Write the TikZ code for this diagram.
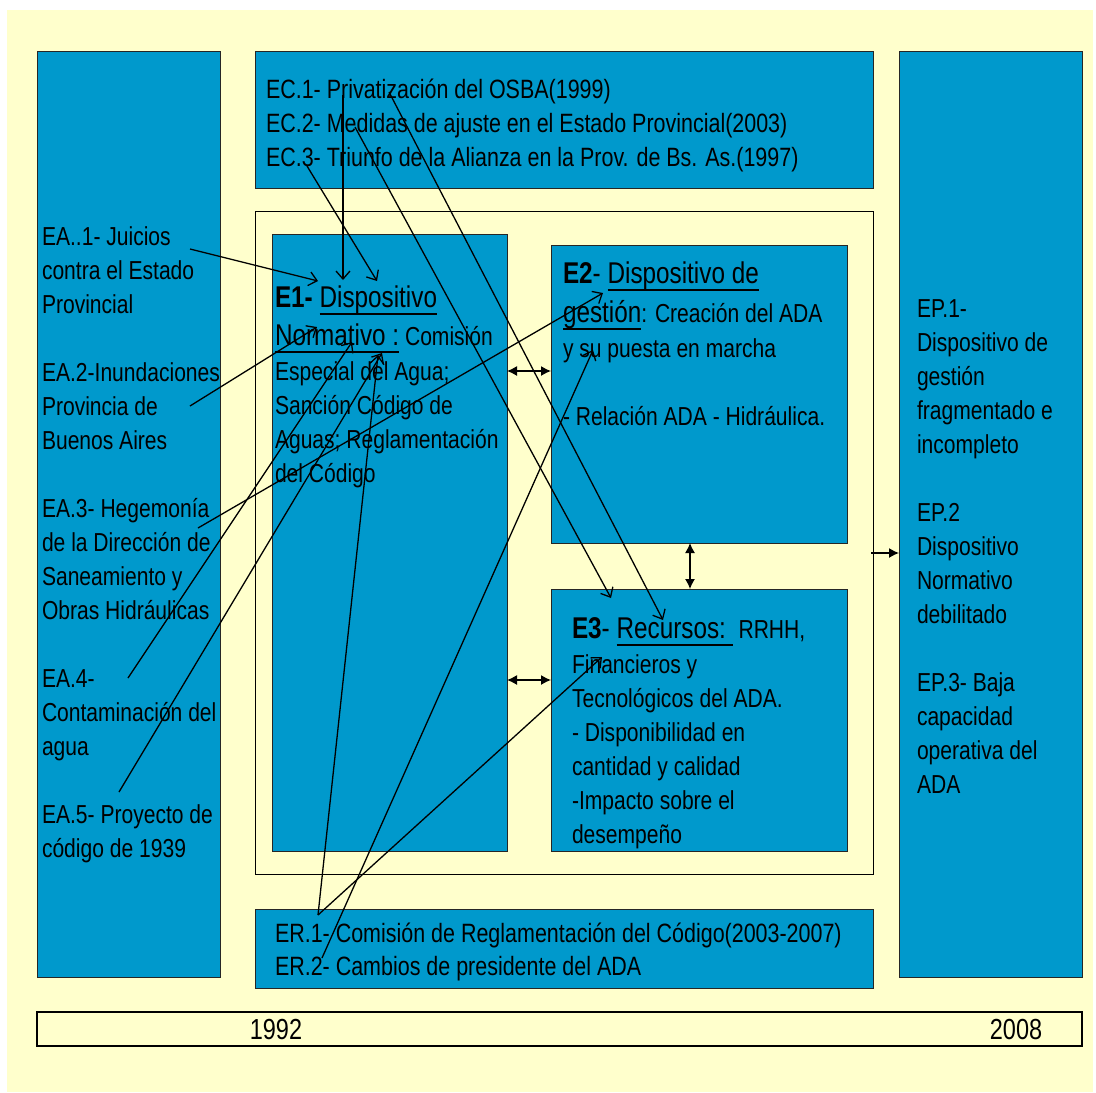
\documentclass[tikz,border=0pt]{standalone}
\usepackage{fontspec}
\setmainfont{Liberation Sans}[FakeStretch=0.81]
\usetikzlibrary{arrows.meta}
\definecolor{bgyellow}{HTML}{FFFFCC}
\definecolor{boxblue}{HTML}{0099CC}
\newcommand\ulx[1]{\setbox0=\hbox{#1}\rlap{\rule[-8.4pt]{\wd0}{2.7pt}}\box0}
\newcommand\fstrut{\rule{0pt}{26pt}}
\newcommand\bigsz{\fontsize{30}{34}\selectfont}
\begin{document}
\begin{tikzpicture}[x=1pt,y=-1pt,
  bbox/.style={draw=black!85, line width=0.9pt, fill=boxblue, anchor=north west, outer sep=0pt, inner sep=0pt},
  frm/.style={draw=black, line width=0.9pt, fill=bgyellow, anchor=north west, outer sep=0pt, inner sep=0pt},
  txt/.style={anchor=north west, inner sep=0pt, outer sep=0pt, align=left, font=\fontsize{26}{34}\selectfont},
  link/.style={line width=1.3pt, -{Straight Barb[length=8pt,width=14pt]}},
  dbl/.style={line width=1.3pt, {Latex[length=10pt,width=10pt]}-{Latex[length=10pt,width=10pt]}},
  sgl/.style={line width=1.3pt, -{Latex[length=10pt,width=10pt]}}]
\useasboundingbox (0,0) rectangle (1096,1093);
\fill[white] (0,0) rectangle (1096,1093);
\fill[bgyellow] (7,10) rectangle (1093,1092);
% boxes
\node[bbox, minimum width=183pt, minimum height=926pt] (ea) at (37,51) {};
\node[bbox, minimum width=618pt, minimum height=137pt] (ec) at (255,51) {};
\node[bbox, minimum width=183pt, minimum height=926pt] (ep) at (899,51) {};
\node[frm, minimum width=618pt, minimum height=663pt] (frame) at (255,211) {};
\node[bbox, minimum width=235pt, minimum height=617pt] (e1) at (272,234) {};
\node[bbox, minimum width=296pt, minimum height=298pt] (e2) at (551,245) {};
\node[bbox, minimum width=296pt, minimum height=262pt] (e3) at (551,589) {};
\node[bbox, minimum width=618pt, minimum height=79pt] (er) at (255,909) {};
\node[frm, line width=1.3pt, minimum width=1045pt, minimum height=34pt] (tl) at (37,1012) {};
% texts
\node[txt] (eat) at (42,219) {\fstrut EA..1- Juicios\\contra el Estado\\Provincial\\[34pt]EA.2-Inundaciones\\Provincia de\\Buenos Aires\\[34pt]EA.3- Hegemonía\\de la Dirección de\\Saneamiento y\\Obras Hidráulicas\\[34pt]EA.4-\\Contaminación del\\agua\\[34pt]EA.5- Proyecto de\\código de 1939};
\node[txt, font=\fontsize{26.5}{34}\selectfont] (ect) at (266,72) {\fstrut EC.1- Privatización del OSBA(1999)\\EC.2- Medidas de ajuste en el Estado Provincial(2003)\\EC.3- Triunfo de la Alianza en la Prov. de Bs. As.(1997)};
\node[txt] (ept) at (917,291) {\fstrut EP.1-\\Dispositivo de\\gestión\\fragmentado e\\incompleto\\[34pt]EP.2\\Dispositivo\\Normativo\\debilitado\\[34pt]EP.3- Baja\\capacidad\\operativa del\\ADA};
\node[txt] (e1t) at (275,281) {\fstrut{\bigsz\textbf{E1-} \ulx{Dispositivo}}\\[4pt]{\bigsz\ulx{Normativo :}} Comisión\\[1pt]Especial del Agua;\\Sanción Código de\\Aguas; Reglamentación\\del Código};
\node[txt] (e2t) at (563,257) {\fstrut{\bigsz\textbf{E2}- \ulx{Dispositivo de}}\\[5pt]{\bigsz\ulx{gestión}}: Creación del ADA\\[1pt]y su puesta en marcha\\[34pt]- Relación ADA - Hidráulica.};
\node[txt] (e3t) at (572,612) {\fstrut{\bigsz\textbf{E3}- \ulx{Recursos:\ }} RRHH,\\[1pt]Financieros y\\Tecnológicos del ADA.\\- Disponibilidad en\\cantidad y calidad\\-Impacto sobre el\\desempeño};
\node[txt, font=\fontsize{26.5}{33}\selectfont] (ert) at (275,916) {\fstrut ER.1- Comisión de Reglamentación del Código(2003-2007)\\ER.2- Cambios de presidente del ADA};
\node[anchor=base, inner sep=0pt, font=\fontsize{29}{34}\selectfont] (y1) at (276,1039) {1992};
\node[anchor=base, inner sep=0pt, font=\fontsize{29}{34}\selectfont] (y2) at (1016,1039) {2008};
% connector endpoints
\coordinate (ea1s) at (190,249); \coordinate (e1a) at (318,281);
\coordinate (ec1s) at (343,95);  \coordinate (e1b) at (343,280);
\coordinate (ec3s) at (307,166); \coordinate (e1c) at (377,281);
\coordinate (ec2s) at (355,127); \coordinate (e3a) at (611,598);
\coordinate (ec1t) at (389,92);  \coordinate (e3b) at (663,620);
\coordinate (ea2s) at (190,406); \coordinate (e1d) at (317,327);
\coordinate (ea3s) at (198,528); \coordinate (e2a) at (603,293);
\coordinate (ea4s) at (128,678); \coordinate (e1e) at (352,342);
\coordinate (ea5s) at (119,792); \coordinate (e1f) at (382,353);
\coordinate (er1s) at (318,915); \coordinate (e1g) at (378,355);
\coordinate (e3c) at (602,657);
\coordinate (er2s) at (322,958); \coordinate (e2b) at (593,350);
\draw[link] (ea1s) -- (e1a);
\draw[link] (ec1s) -- (e1b);
\draw[link] (ec3s) -- (e1c);
\draw[link] (ec2s) -- (e3a);
\draw[link] (ec1t) -- (e3b);
\draw[link] (ea2s) -- (e1d);
\draw[link] (ea3s) -- (e2a);
\draw[link] (ea4s) -- (e1e);
\draw[link] (ea5s) -- (e1f);
\draw[link] (er1s) -- (e1g);
\draw[link] (er1s) -- (e3c);
\draw[link] (er2s) -- (e2b);
% box-to-box arrows
\draw[dbl] (e1.east |- 0,371) -- (e2.west |- 0,371);
\draw[dbl] (e1.east |- 0,680) -- (e3.west |- 0,680);
\draw[dbl] (e2.south -| 690,0) -- (e3.north -| 690,0);
\draw[sgl] ([xshift=-2pt]frame.east |- 0,553) -- (ep.west |- 0,553);
\end{tikzpicture}
\end{document}
